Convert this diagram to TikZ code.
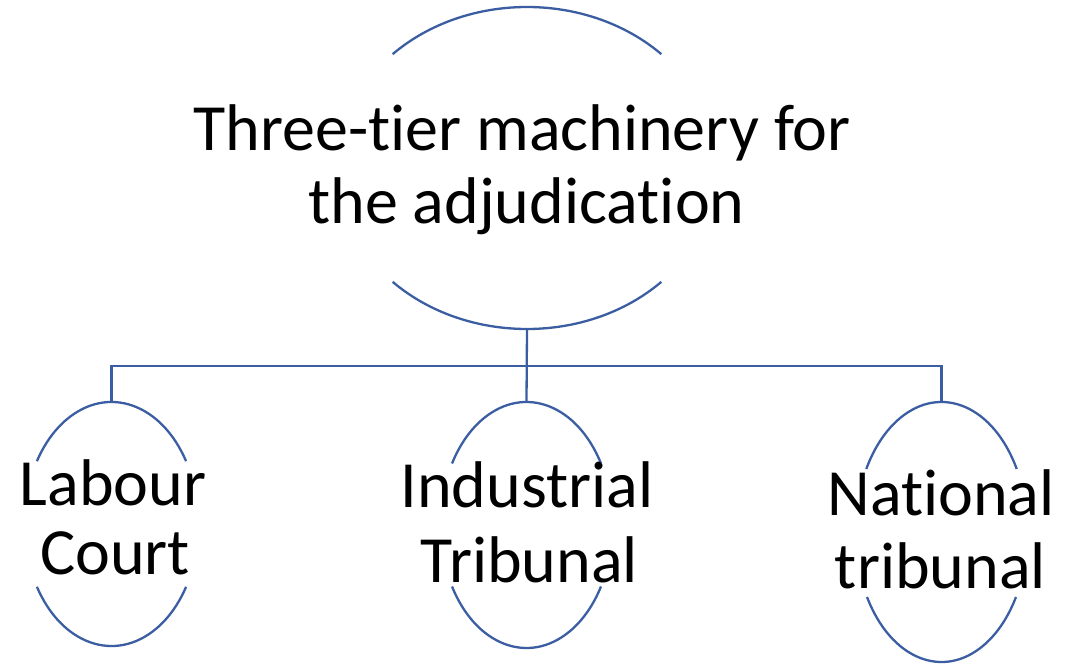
\documentclass[tikz,border=0pt]{standalone}
\usepackage{fontspec}
\setmainfont{Carlito}[Ligatures={NoCommon}]
\usetikzlibrary{shapes.geometric}
\definecolor{lineblue}{RGB}{59,94,163}
\tikzset{
  x=1pt, y=1pt,
  holder/.style={ellipse, draw=none, inner sep=0pt, outer sep=0pt},
  conn/.style={draw=lineblue, line width=2.3pt},
  rim/.style={draw=lineblue, line width=2.3pt},
  label/.style={anchor=base, inner sep=0pt, font=\fontsize{66}{73}\selectfont, text=black}
}
\begin{document}
\begin{tikzpicture}
\useasboundingbox (0,0) rectangle (1077,665);
% ellipse holders
\node[holder, minimum width=380pt, minimum height=322pt] (e0) at (527,497) {};
\node[holder, minimum width=174pt, minimum height=244pt] (e1) at (111.5,141) {};
\node[holder, minimum width=172pt, minimum height=246pt] (e2) at (526.5,140) {};
\node[holder, minimum width=172pt, minimum height=260pt] (e3) at (941.5,133) {};
% arcs of ellipses
\draw[rim] ([shift={(45:190 and 161)}]e0.center) arc[start angle=45, end angle=135, x radius=190, y radius=161];
\draw[rim] ([shift={(225:190 and 161)}]e0.center) arc[start angle=225, end angle=315, x radius=190, y radius=161];
\draw[rim] ([shift={(31:87 and 122)}]e1.center) arc[start angle=31, end angle=149, x radius=87, y radius=122];
\draw[rim] ([shift={(211:87 and 122)}]e1.center) arc[start angle=211, end angle=329, x radius=87, y radius=122];
\draw[rim] ([shift={(30:86 and 123)}]e2.center) arc[start angle=30, end angle=150, x radius=86, y radius=123];
\draw[rim] ([shift={(210:86 and 123)}]e2.center) arc[start angle=210, end angle=330, x radius=86, y radius=123];
\draw[rim] ([shift={(29:86 and 130)}]e3.center) arc[start angle=29, end angle=151, x radius=86, y radius=130];
\draw[rim] ([shift={(210:86 and 130)}]e3.center) arc[start angle=210, end angle=330, x radius=86, y radius=130];
% connectors
\coordinate (bus) at (527,299);
\draw[conn] (e0.south) -- (e2.north);
\draw[conn] (e1.north) -- (e1.north |- bus) -- (e3.north |- bus) -- (e3.north);
% texts
\node[label] (t0a) at (522,514) {Three-tier machinery for};
\node[label] (t0b) at (526.5,441) {the adjudication};
\node[label] (t1a) at (113,160) {Labour};
\node[label] (t1b) at (115,91) {Court};
\node[label] (t2a) at (527,158) {Industrial};
\node[label] (t2b) at (529.5,83) {Tribunal};
\node[label] (t3a) at (941,150) {National};
\node[label] (t3b) at (940.5,77) {tribunal};
\end{tikzpicture}
\end{document}
